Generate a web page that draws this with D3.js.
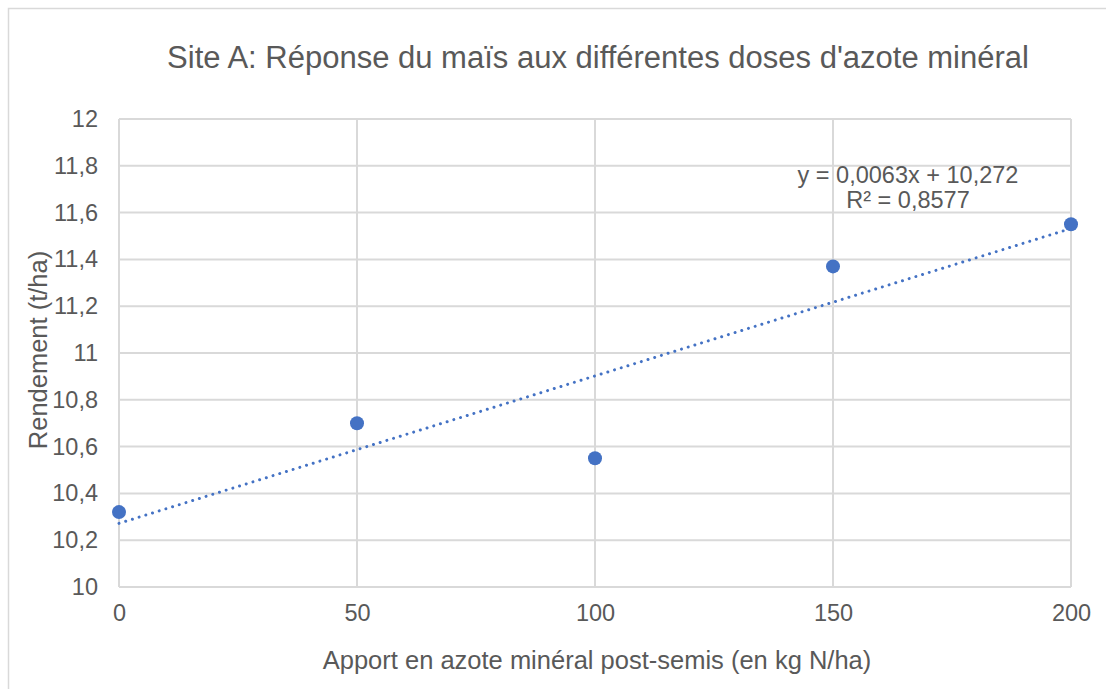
<!DOCTYPE html>
<html>
<head>
<meta charset="utf-8">
<script src="https://cdn.jsdelivr.net/npm/d3@7"></script>
<style>
  body { margin: 0; background: #fff; }
  text { font-family: "Liberation Sans", Arial, sans-serif; fill: #595959; }
</style>
</head>
<body>
<svg width="1106" height="689"></svg>
<script>
  // data
  const doses = [0, 50, 100, 150, 200];
  const rendement = [10.32, 10.70, 10.55, 11.37, 11.55];
  const xTicks = [0, 50, 100, 150, 200];
  const yTicks = [10, 10.2, 10.4, 10.6, 10.8, 11, 11.2, 11.4, 11.6, 11.8, 12];
  const trend = { slope: 0.0063, intercept: 10.272, r2: "0,8577" };

  const svg = d3.select("svg");
  const margin = { left: 119, top: 119, right: 1071, bottom: 587 };

  const x = d3.scaleLinear().domain([0, 200]).range([margin.left, margin.right]);
  const y = d3.scaleLinear().domain([10, 12]).range([margin.bottom, margin.top]);

  const fmt = v => d3.format("")(+v.toFixed(1)).replace(".", ",");

  // chart frame (only top and left visible, cropped)
  svg.append("path")
    .attr("d", "M8.5,689 V8.5 H1106")
    .attr("fill", "none")
    .attr("stroke", "#d9d9d9")
    .attr("stroke-width", 1.5);

  // title
  svg.append("text")
    .attr("x", 598)
    .attr("y", 68)
    .attr("text-anchor", "middle")
    .style("font-size", "31px")
    .text("Site A: Réponse du maïs aux différentes doses d'azote minéral");

  // gridlines
  svg.append("g")
    .selectAll("line")
    .data(yTicks)
    .join("line")
      .attr("x1", margin.left)
      .attr("x2", margin.right)
      .attr("y1", d => y(d))
      .attr("y2", d => y(d))
      .attr("stroke", "#d9d9d9")
      .attr("stroke-width", 2);

  svg.append("g")
    .selectAll("line")
    .data(xTicks)
    .join("line")
      .attr("x1", d => x(d))
      .attr("x2", d => x(d))
      .attr("y1", margin.top)
      .attr("y2", margin.bottom)
      .attr("stroke", "#d9d9d9")
      .attr("stroke-width", 2);

  // y axis
  const yAxis = svg.append("g")
    .attr("transform", "translate(" + margin.left + ",0)")
    .call(d3.axisLeft(y).tickValues(yTicks).tickFormat(fmt).tickSize(0).tickPadding(21));
  yAxis.select(".domain").remove();
  yAxis.selectAll("text").style("font-size", "23.5px").attr("font-family", null).attr("fill", null);

  // x axis
  const xAxis = svg.append("g")
    .attr("transform", "translate(0," + margin.bottom + ")")
    .call(d3.axisBottom(x).tickValues(xTicks).tickFormat(d3.format("d")).tickSize(0).tickPadding(17));
  xAxis.select(".domain").remove();
  xAxis.selectAll("text").style("font-size", "23.5px").attr("font-family", null).attr("fill", null);

  // axis titles
  svg.append("text")
    .attr("x", 597)
    .attr("y", 669)
    .attr("text-anchor", "middle")
    .style("font-size", "25.5px")
    .text("Apport en azote minéral post-semis (en kg N/ha)");

  svg.append("text")
    .attr("transform", "translate(47,350) rotate(-90)")
    .attr("text-anchor", "middle")
    .style("font-size", "25.5px")
    .text("Rendement  (t/ha)");

  // trendline
  svg.append("line")
    .attr("x1", x(0))
    .attr("y1", y(trend.intercept))
    .attr("x2", x(200))
    .attr("y2", y(trend.intercept + trend.slope * 200))
    .attr("stroke", "#4472c4")
    .attr("stroke-width", 3)
    .attr("stroke-linecap", "round")
    .attr("stroke-dasharray", "0.01 7");

  // points
  svg.append("g")
    .selectAll("circle")
    .data(doses)
    .join("circle")
      .attr("cx", d => x(d))
      .attr("cy", (d, i) => y(rendement[i]))
      .attr("r", 7)
      .attr("fill", "#4472c4");

  // equation label
  svg.append("text")
    .attr("x", 908)
    .attr("y", 183)
    .attr("text-anchor", "middle")
    .style("font-size", "23.5px")
    .text("y = 0,0063x + 10,272");
  svg.append("text")
    .attr("x", 908)
    .attr("y", 208)
    .attr("text-anchor", "middle")
    .style("font-size", "23.5px")
    .text("R² = " + trend.r2);
</script>
</body>
</html>
